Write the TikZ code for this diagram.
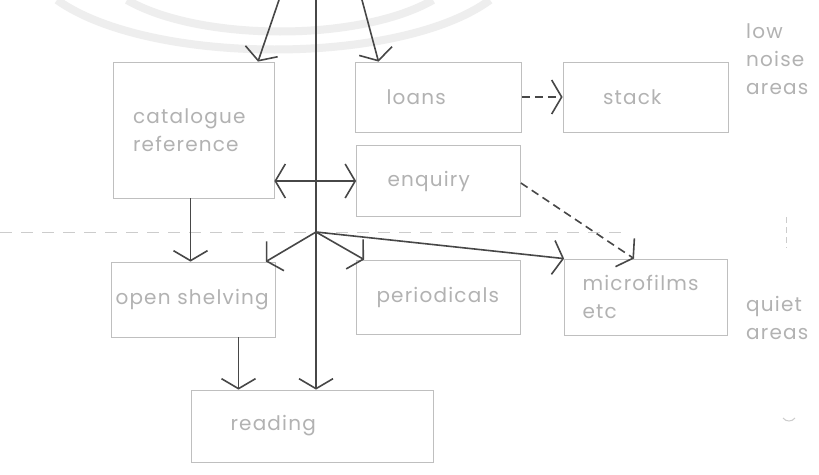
\documentclass[tikz,border=0pt]{standalone}
\usepackage{fontspec}
\newfontfamily\diagfont{Poppins}[LetterSpace=6]
\usepackage{tikz}
\usetikzlibrary{arrows.meta}
\tikzstyle{box} = [rectangle, draw=gray!50, line width=0.8pt, text=gray!60,
    font=\diagfont\fontsize{20}{28}\selectfont, align=left, inner ysep=0pt]
\tikzstyle{note} = [text=gray!60, font=\diagfont\fontsize{20}{28}\selectfont,
    align=left, inner sep=0pt, anchor=west]
\tikzstyle{line} = [draw=black!72, line width=1.6pt, -{Straight Barb[length=10pt,width=34pt]}]
\tikzstyle{dline} = [line, dash pattern=on 8pt off 5pt]
\tikzstyle{both} = [line, {Straight Barb[length=10pt,width=34pt]}-{Straight Barb[length=10pt,width=34pt]}]
\tikzstyle{zone} = [draw=gray!40, line width=0.8pt, dash pattern=on 12pt off 9pt]
\tikzstyle{stamp} = [draw=gray!13, line width=8pt]

\begin{document}
\begin{tikzpicture}[x=1pt, y=1pt, node distance=207pt]
    \fill[white] (0,0) rectangle (819,-474);
    \useasboundingbox (0,0) rectangle (819,-474);
    % watermark arcs
    \path [stamp] (57,0) .. controls (150,-66) and (400,-66) .. (490,0);
    \path [stamp] (127,0) .. controls (200,-42) and (360,-42) .. (433,0);
    % zone boundary
    \path [zone] (0,-232) -- (625,-232);
    \path [zone, dash pattern=on 6pt off 4pt] (786,-217) -- (786,-248);
    % Place nodes
    \node [box, text width=121pt, inner xsep=20pt, minimum height=136pt] (cat) at (193.5,-130) {catalogue\\reference};
    \node [box, text width=104pt, inner xsep=31pt, minimum height=70pt, right of=cat, node distance=245pt, yshift=33pt] (loans) {loans};
    \node [box, text width=85pt, inner xsep=40pt, minimum height=70pt, right of=loans] (stack) {stack};
    \node [box, text width=102pt, inner xsep=31pt, minimum height=71pt, below of=loans, node distance=84pt] (enq) {enquiry};
    \node [box, text width=156pt, inner xsep=4pt, minimum height=75pt, below of=cat, node distance=169.5pt] (open) {open shelving};
    \node [box, text width=124pt, inner xsep=20pt, minimum height=74pt, below of=enq, node distance=116pt] (per) {periodicals};
    \node [box, text width=127pt, inner xsep=18pt, minimum height=76pt, right of=per, node distance=207.5pt] (mf) {microfilms\\etc};
    \node [box, text width=164pt, inner xsep=39pt, minimum height=72pt, below of=open, node distance=126.5pt, xshift=119pt] (read) {reading};
    \node [note] (lownoise) at (746,-59) {low\\noise\\areas};
    \node [note] (quiet) at (746,-318) {quiet\\areas};
    \coordinate (tl) at (279,0);
    \coordinate (tr) at (362,0);
    \coordinate (top) at (316,0);
    \coordinate (hub) at (316,-232);
    % Draw edges
    \path [line] (tl) -- ([xshift=64.5pt]cat.north);
    \path [line] (tr) -- ([xshift=-60pt]loans.north);
    \path [line] (top) -- (top |- read.north);
    \path [both] (cat.east |- enq.west) -- (enq.west);
    \path [line] ([xshift=-3pt]cat.south) -- ([xshift=-3pt]cat.south |- open.north);
    \path [line] (hub) -- ([xshift=-10pt]open.north east);
    \path [line] (hub) -- ([xshift=8pt]per.north west);
    \path [line] (hub) -- (mf.north west);
    \path [line] ([xshift=45pt]open.south) -- ([xshift=45pt]open.south |- read.north);
    \path [dline] (loans.east) -- (stack.west);
    \path [dline] ([yshift=-2pt]enq.east) -- ([xshift=-12pt]mf.north);
    \draw [gray!40, line width=1pt] (783,-418) .. controls (786,-422) and (792,-422) .. (795,-418);
\end{tikzpicture}
\end{document}
